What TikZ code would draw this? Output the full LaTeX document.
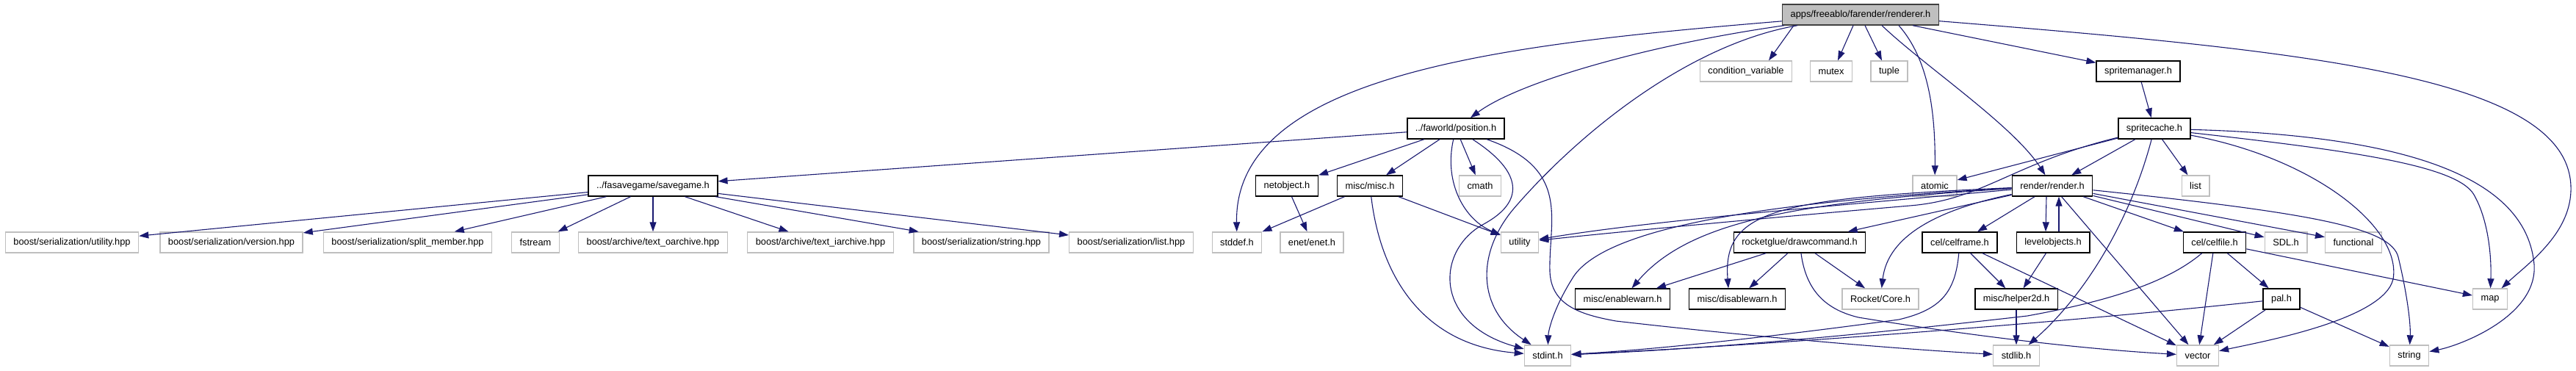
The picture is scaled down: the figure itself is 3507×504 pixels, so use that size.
\documentclass[tikz,border=0pt]{standalone}
\usepackage{fontspec}
\setmainfont{Liberation Sans}
\usetikzlibrary{arrows.meta}
\definecolor{edgeblue}{HTML}{191970}
\definecolor{sysgrey}{HTML}{BFBFBF}
\begin{document}
\begin{tikzpicture}[x=1pt,y=-1pt,
	box/.style={draw,line width=1.4pt,minimum height=28pt,inner xsep=11pt,inner ysep=0pt,font=\fontsize{12.8}{15}\selectfont},
	hdr/.style={box,draw=black,fill=white},
	sys/.style={box,draw=sysgrey,fill=white},
	root/.style={box,draw=black!75,fill=sysgrey},
	edge/.style={draw=edgeblue,line width=1.1pt,-{Triangle[length=13pt,width=9pt]}}]
					\useasboundingbox (0,0) rectangle (3507,504);
					\node[root] (renderer) at (2533,20) {apps/freeablo/farender/renderer.h};
					\node[sys] (condvar) at (2377,97) {condition\_variable};
					\node[sys] (mutex) at (2493,97) {mutex};
					\node[sys] (tuple) at (2572,97) {tuple};
					\node[hdr] (spritemgr) at (2911,97) {spritemanager.h};
					\node[hdr] (position) at (1982,175) {../faworld/position.h};
					\node[hdr] (spritecache) at (2933,175) {spritecache.h};
					\node[hdr] (savegame) at (889,253) {../fasavegame/savegame.h};
					\node[hdr] (netobject) at (1752,253) {netobject.h};
					\node[hdr] (misc) at (1865,253) {misc/misc.h};
					\node[sys] (cmath) at (2015,253) {cmath};
					\node[sys] (atomic) at (2634,253) {atomic};
					\node[hdr] (render) at (2794,253) {render/render.h};
					\node[sys] (list) at (2989,253) {list};
					\node[sys] (bsutility) at (98,330) {boost/serialization/utility.hpp};
					\node[sys] (bsversion) at (315,330) {boost/serialization/version.hpp};
					\node[sys] (bssplit) at (555,330) {boost/serialization/split\_member.hpp};
					\node[sys] (fstream) at (729,330) {fstream};
					\node[sys] (oarchive) at (889,330) {boost/archive/text\_oarchive.hpp};
					\node[sys] (iarchive) at (1117,330) {boost/archive/text\_iarchive.hpp};
					\node[sys] (bsstring) at (1336,330) {boost/serialization/string.hpp};
					\node[sys] (bslist) at (1540,330) {boost/serialization/list.hpp};
					\node[sys] (stddef) at (1684,330) {stddef.h};
					\node[sys] (enet) at (1786,330) {enet/enet.h};
					\node[sys] (utility) at (2069,330) {utility};
					\node[hdr] (drawcmd) at (2450,330) {rocketglue/drawcommand.h};
					\node[hdr] (celframe) at (2668,330) {cel/celframe.h};
					\node[hdr] (levelobj) at (2795,330) {levelobjects.h};
					\node[hdr] (celfile) at (3015,330) {cel/celfile.h};
					\node[sys] (sdl) at (3112,330) {SDL.h};
					\node[sys] (functional) at (3204,330) {functional};
					\node[hdr] (enablewarn) at (2209,407) {misc/enablewarn.h};
					\node[hdr] (disablewarn) at (2365,407) {misc/disablewarn.h};
					\node[sys] (rocketcore) at (2560,407) {Rocket/Core.h};
					\node[hdr] (helper2d) at (2745,407) {misc/helper2d.h};
					\node[hdr] (pal) at (3106,407) {pal.h};
					\node[sys] (map) at (3390,407) {map};
					\node[sys] (stdint) at (2107,484) {stdint.h};
					\node[sys] (stdlib) at (2745,484) {stdlib.h};
					\node[sys] (vector) at (2992,484) {vector};
					\node[sys] (string) at (3280,484) {string};
					\draw[edge] (renderer) .. controls (2050,60) and (1680,100) .. (stddef);
					\draw[edge] (renderer) .. controls (2250,60) and (2070,110) .. (position);
					\draw[edge] ([xshift=-86]renderer.south) .. controls (2300,60) and (2150,180) .. (2060,285) .. controls (2010,345) and (2010,420) .. (stdint);
					\draw[edge] ([xshift=-91]renderer.south) -- ([xshift=31]condvar.north);
					\draw[edge] ([xshift=-10]renderer.south) -- ([xshift=9]mutex.north);
					\draw[edge] ([xshift=6]renderer.south) -- ([xshift=-10]tuple.north);
					\draw[edge] ([xshift=52]renderer.south) .. controls (2625,80) and (2635,150) .. (atomic);
					\draw[edge] ([xshift=29]renderer.south) .. controls (2620,90) and (2740,170) .. (render);
					\draw[edge] ([xshift=71]renderer.south) -- (spritemgr);
					\draw[edge] (renderer) .. controls (3150,70) and (3505,105) .. (3500,260) .. controls (3498,320) and (3440,360) .. (map);
					\draw[edge] (position) -- (savegame);
					\draw[edge] (position) -- (netobject);
					\draw[edge] (position) -- (misc);
					\draw[edge] (position) -- (cmath);
					\draw[edge] (position) .. controls (1965,250) and (1995,300) .. (utility);
					\draw[edge] (position) .. controls (2075,235) and (2075,275) .. (2020,305) .. controls (1955,340) and (1950,440) .. (stdint);
					\draw[edge] (position) .. controls (2140,230) and (2108,300) .. (2110,370) .. controls (2112,415) and (2150,428) .. (2200,437) .. controls (2400,460) and (2600,476) .. (stdlib);
					\draw[edge] (savegame) -- (bsutility);
					\draw[edge] (savegame) -- (bsversion);
					\draw[edge] (savegame) -- (bssplit);
					\draw[edge] (savegame) -- (fstream);
					\draw[edge] (savegame) -- (oarchive);
					\draw[edge] (savegame) -- (iarchive);
					\draw[edge] (savegame) -- (bsstring);
					\draw[edge] (savegame) -- (bslist);
					\draw[edge] (netobject) -- (enet);
					\draw[edge] (misc) -- (stddef);
					\draw[edge] (misc) -- (utility);
					\draw[edge] (misc) .. controls (1880,380) and (1940,470) .. (stdint);
					\draw[edge] (spritemgr) -- (spritecache);
					\draw[edge] (spritecache) -- (atomic);
					\draw[edge] (spritecache) -- (render);
					\draw[edge] (spritecache) -- (list);
					\draw[edge] (spritecache) .. controls (2740,222) and (2700,272) .. (2600,280) .. controls (2400,297) and (2200,316) .. (utility);
					\draw[edge] (spritecache) .. controls (2900,300) and (2840,400) .. (stdlib);
					\draw[edge] (spritecache) .. controls (3150,215) and (3270,310) .. (3258,380) .. controls (3245,435) and (3080,465) .. (vector);
					\draw[edge] (spritecache) .. controls (3200,205) and (3345,225) .. (3368,265) .. controls (3388,300) and (3392,350) .. (map);
					\draw[edge] (spritecache) .. controls (3300,185) and (3440,250) .. (3450,360) .. controls (3455,430) and (3350,470) .. (string);
					\draw[edge] (render) .. controls (2500,280) and (2250,300) .. (utility);
					\draw[edge] (render) .. controls (2400,275) and (2180,310) .. (2140,380) .. controls (2115,420) and (2108,450) .. (stdint);
					\draw[edge] (render) .. controls (2450,275) and (2300,300) .. (enablewarn);
					\draw[edge] (render) .. controls (2420,270) and (2345,285) .. ([xshift=-12]disablewarn.north);
					\draw[edge] (render) -- (drawcmd);
					\draw[edge] (render) .. controls (2640,285) and (2570,320) .. (rocketcore);
					\draw[edge] (render) -- (celframe);
					\draw[edge] ([xshift=-8]render.south) -- ([xshift=-10]levelobj.north);
					\draw[edge] (render) -- (vector);
					\draw[edge] (render) -- (celfile);
					\draw[edge] (render) -- (sdl);
					\draw[edge] (render) -- (functional);
					\draw[edge] (render) .. controls (3150,290) and (3255,310) .. (3265,350) .. controls (3277,400) and (3282,440) .. (string);
					\draw[edge] ([xshift=8]levelobj.north) -- ([xshift=9]render.south);
					\draw[edge] (levelobj) -- (helper2d);
					\draw[edge] (drawcmd) -- (enablewarn);
					\draw[edge] (drawcmd) -- (disablewarn);
					\draw[edge] (drawcmd) -- (rocketcore);
					\draw[edge] (drawcmd) .. controls (2458,390) and (2480,420) .. (2530,432) .. controls (2700,460) and (2850,476) .. (vector);
					\draw[edge] (celframe) -- (helper2d);
					\draw[edge] (celframe) -- (vector);
					\draw[edge] (celframe) .. controls (2662,400) and (2640,422) .. (2585,435) .. controls (2400,460) and (2250,476) .. (stdint);
					\draw[edge] (celfile) .. controls (2950,385) and (2870,410) .. (2760,430) .. controls (2500,460) and (2300,476) .. (stdint);
					\draw[edge] (celfile) -- (vector);
					\draw[edge] (celfile) -- (pal);
					\draw[edge] (celfile) -- (map);
					\draw[edge] (pal) .. controls (2800,440) and (2400,470) .. (stdint);
					\draw[edge] (pal) -- (vector);
					\draw[edge] (pal) -- (string);
					\draw[edge] (helper2d) -- (stdlib);
				\end{tikzpicture}
\end{document}
